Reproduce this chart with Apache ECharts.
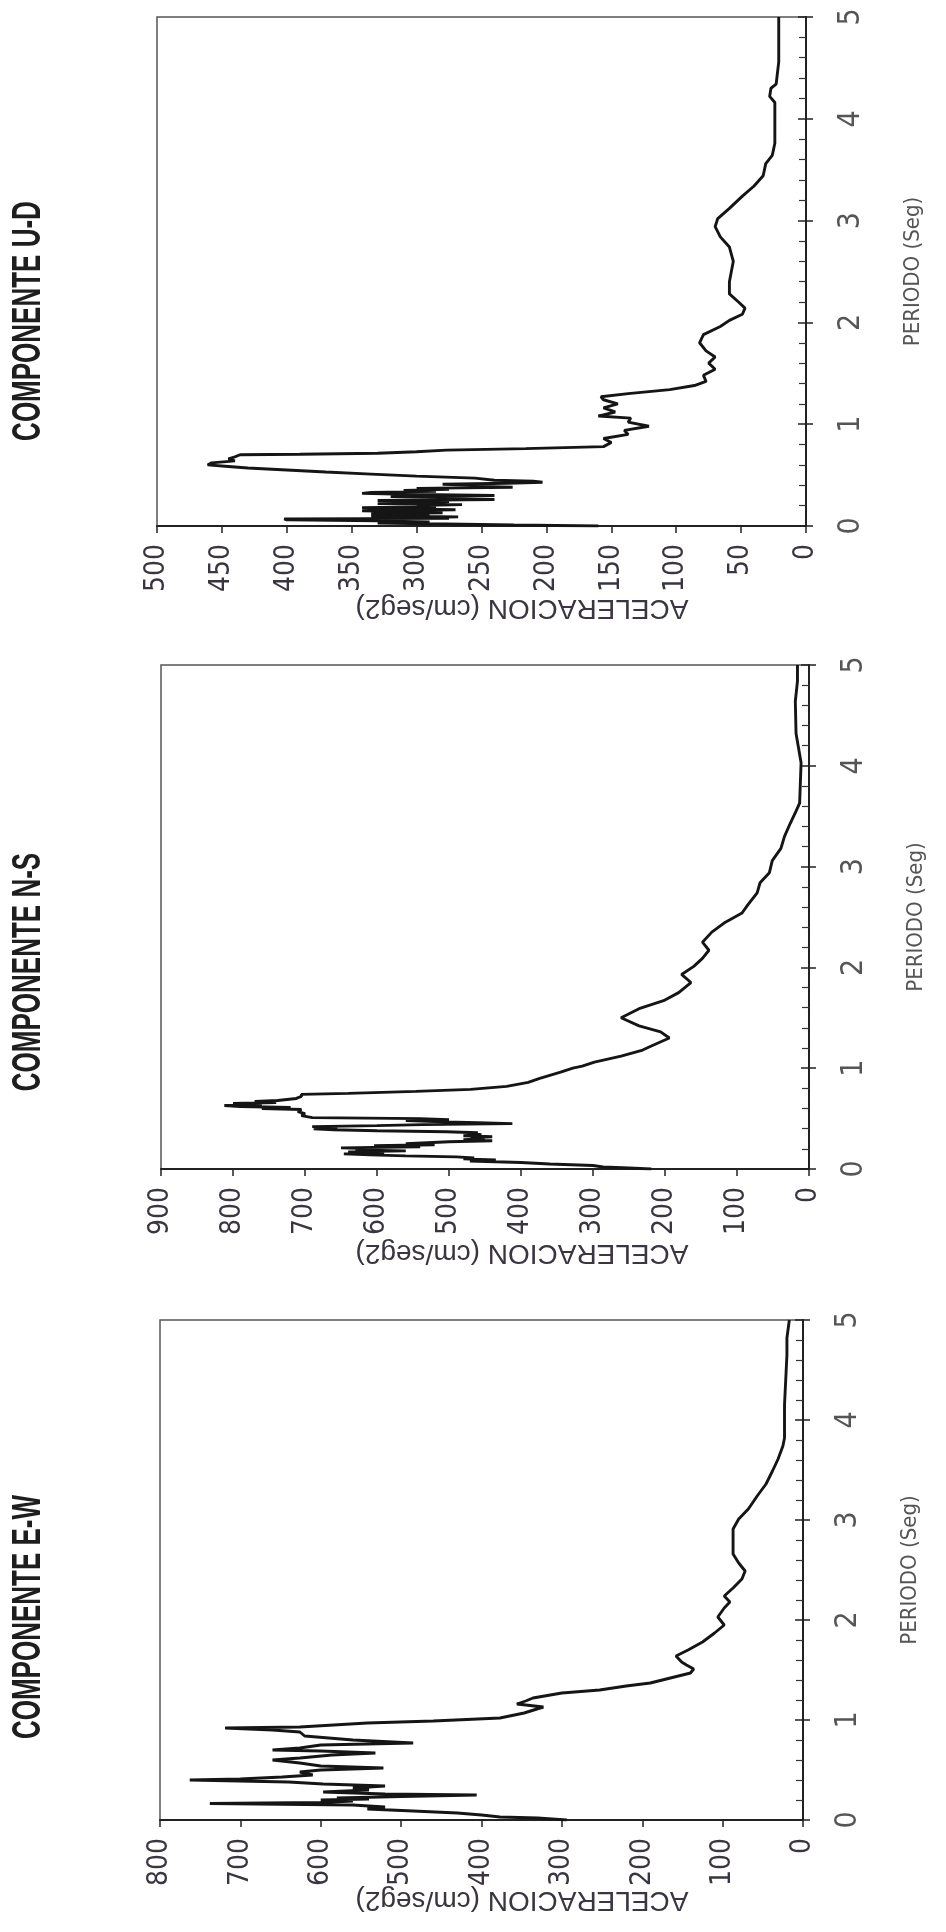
<!DOCTYPE html>
<html>
<head>
<meta charset="utf-8">
<script src="https://cdn.jsdelivr.net/npm/echarts@6/dist/echarts.min.js"></script>
<style>
  html, body { margin: 0; padding: 0; background: #fff; }
  #chart { width: 946px; height: 1932px; }
</style>
</head>
<body>
<div id="chart"></div>
<script>
// espectros de aceleracion, periodo (seg) vs aceleracion (cm/seg2)
const udPeriod = [0, 0.01, 0.02, 0.03, 0.04, 0.05, 0.06, 0.07, 0.075, 0.08, 0.09, 0.1, 0.11, 0.12, 0.13, 0.14,
  0.15, 0.16, 0.17, 0.18, 0.19, 0.2, 0.21, 0.22, 0.23, 0.24, 0.25, 0.26, 0.27, 0.28, 0.29, 0.3, 0.31, 0.32,
  0.33, 0.34, 0.35, 0.36, 0.37, 0.38, 0.39, 0.4, 0.41, 0.42, 0.43, 0.44, 0.45, 0.47, 0.49, 0.51, 0.53, 0.55,
  0.57, 0.585, 0.6, 0.62, 0.64, 0.66, 0.68, 0.7, 0.705, 0.715, 0.73, 0.745, 0.76, 0.78, 0.82, 0.86, 0.9,
  0.94, 0.98, 1.02, 1.06, 1.08, 1.12, 1.16, 1.2, 1.24, 1.27, 1.3, 1.34, 1.38, 1.42, 1.48, 1.54, 1.6, 1.66,
  1.72, 1.8, 1.88, 1.96, 2.02, 2.08, 2.14, 2.2, 2.28, 2.4, 2.6, 2.74, 2.84, 2.94, 3.02, 3.12, 3.24, 3.34,
  3.44, 3.56, 3.64, 3.76, 3.96, 4.16, 4.22, 4.3, 4.34, 4.56, 5]
const udAccel = [160, 225, 225, 330, 290, 330, 400, 402, 275, 300, 268, 335, 290, 335, 280, 300,
  342, 270, 320, 342, 285, 300, 265, 330, 290, 275, 330, 240, 290, 270, 320, 240, 300, 342,
  335, 285, 310, 275, 300, 226, 260, 250, 280, 230, 203, 210, 240, 255, 300, 335, 370, 400,
  430, 445, 461, 458, 440, 445, 440, 436, 390, 330, 300, 277, 216, 156, 150, 156, 137,
  140, 121, 137, 135, 160, 147, 156, 145, 156, 158, 137, 105, 86, 77, 79, 70, 75, 70,
  77, 82, 79, 66, 59, 49, 47, 52, 59, 59, 56, 59, 66, 70, 68, 59, 49, 40,
  33, 31, 26, 24, 24, 24, 28, 27, 23, 21, 21]

const nsPeriod = [0, 0.01, 0.02, 0.035, 0.05, 0.065, 0.08, 0.09, 0.1, 0.11, 0.12, 0.13, 0.14, 0.15, 0.16,
  0.17, 0.18, 0.19, 0.2, 0.21, 0.22, 0.23, 0.24, 0.25, 0.27, 0.28, 0.29, 0.3, 0.31, 0.32, 0.33, 0.34, 0.35,
  0.36, 0.37, 0.38, 0.39, 0.4, 0.41, 0.42, 0.43, 0.44, 0.45, 0.46, 0.47, 0.48, 0.49, 0.5, 0.51, 0.53, 0.55,
  0.57, 0.59, 0.6, 0.61, 0.62, 0.63, 0.64, 0.65, 0.66, 0.67, 0.68, 0.7, 0.72, 0.74, 0.75, 0.77, 0.79, 0.82,
  0.86, 0.9, 0.96, 1, 1.02, 1.06, 1.12, 1.18, 1.22, 1.3, 1.36, 1.42, 1.5, 1.59, 1.67, 1.75, 1.85, 1.93,
  2.01, 2.09, 2.17, 2.25, 2.35, 2.44, 2.54, 2.62, 2.74, 2.84, 2.94, 3.06, 3.18, 3.3, 3.43, 3.55, 3.63,
  4.03, 4.32, 4.64, 4.84, 5]
const nsAccel = [219, 250, 286, 300, 360, 400, 471, 435, 480, 465, 490, 560, 610, 646, 590,
  640, 560, 630, 600, 650, 540, 604, 520, 560, 500, 440, 480, 450, 470, 440, 480, 455, 470,
  460, 504, 600, 660, 688, 655, 690, 600, 537, 412, 460, 520, 560, 500, 540, 690, 705, 700,
  710, 705, 760, 720, 790, 812, 760, 800, 740, 770, 738, 712, 705, 705, 640, 546, 470, 420,
  390, 374, 345, 328, 315, 298, 261, 231, 219, 194, 206, 236, 261, 236, 202, 181, 164, 177,
  160, 148, 139, 148, 135, 118, 93, 85, 72, 68, 55, 51, 39, 34, 26, 18, 13,
  11, 18, 19, 16, 16]

const ewPeriod = [0, 0.02, 0.03, 0.05, 0.07, 0.09, 0.11, 0.13, 0.15, 0.165, 0.175, 0.19, 0.2, 0.21, 0.22,
  0.235, 0.25, 0.26, 0.28, 0.3, 0.32, 0.34, 0.36, 0.38, 0.4, 0.41, 0.43, 0.45, 0.48, 0.5, 0.52, 0.54,
  0.57, 0.6, 0.62, 0.65, 0.67, 0.69, 0.7, 0.72, 0.75, 0.77, 0.8, 0.84, 0.88, 0.9, 0.92, 0.93, 0.95, 0.97,
  0.99, 1.02, 1.07, 1.1, 1.13, 1.16, 1.19, 1.22, 1.27, 1.3, 1.34, 1.37, 1.42, 1.47, 1.51, 1.55, 1.58, 1.64,
  1.7, 1.78, 1.87, 1.95, 2.03, 2.12, 2.18, 2.24, 2.32, 2.41, 2.49, 2.57, 2.66, 2.78, 2.91, 3.01, 3.11,
  3.24, 3.36, 3.49, 3.61, 3.74, 3.82, 4.15, 4.65, 4.82, 5]
const ewAccel = [294, 330, 377, 400, 430, 485, 542, 520, 560, 738, 600, 560, 600, 540, 580,
  500, 406, 520, 597, 540, 560, 520, 597, 640, 763, 700, 648, 610, 626, 600, 522, 600,
  626, 660, 626, 586, 532, 600, 660, 626, 600, 485, 560, 620, 626, 660, 719, 626, 626, 542,
  460, 377, 347, 335, 323, 356, 345, 336, 300, 253, 220, 190, 165, 140, 136, 145, 151, 158,
  143, 125, 110, 98, 106, 98, 91, 98, 87, 76, 72, 80, 87, 87, 87, 80, 68,
  57, 46, 38, 31, 25, 23, 23, 20, 20, 17]

const titles = ['COMPONENTE U-D', 'COMPONENTE N-S', 'COMPONENTE E-W']
const accelMax = [500, 900, 800]
const accelStep = [50, 100, 100]
const periodMax = 5
const periodStep = 1

const curves = [
  [udPeriod, udAccel],
  [nsPeriod, nsAccel],
  [ewPeriod, ewAccel]
]

// posicion de cada panel (la pagina esta girada 90 grados)
const panels = [
  { left: 157, width: 649, top: 17, height: 509, titleY: 321, nameY: 608 },
  { left: 161, width: 648, top: 665, height: 504, titleY: 972, nameY: 1253 },
  { left: 160, width: 643, top: 1320, height: 500, titleY: 1617, nameY: 1900 }
]

const narrow = "'Liberation Sans Narrow', 'DejaVu Sans Condensed', 'Liberation Sans', sans-serif"

const chart = echarts.init(document.getElementById('chart'), null, { renderer: 'canvas' })

const grid = []
const xAxis = []
const yAxis = []
const series = []
const graphic = []

panels.forEach((pn, i) => {
  grid.push({
    left: pn.left,
    top: pn.top,
    width: pn.width,
    height: pn.height,
    show: true,
    borderColor: '#555',
    borderWidth: 1.5,
    outerBoundsMode: 'none'
  })
  xAxis.push({
    gridIndex: i,
    type: 'value',
    min: 0,
    max: accelMax[i],
    interval: accelStep[i],
    inverse: true,
    position: 'bottom',
    axisLine: { show: true, onZero: false, lineStyle: { color: '#222', width: 2 } },
    axisTick: { show: true, length: 7, lineStyle: { color: '#222', width: 1.5 } },
    axisLabel: { rotate: 90, margin: 18, fontSize: 28, color: '#3a3540', fontFamily: narrow },
    splitLine: { show: false }
  })
  // eje de periodos: marcas menores hacia dentro
  yAxis.push({
    gridIndex: i,
    type: 'value',
    min: 0,
    max: periodMax,
    interval: periodStep,
    position: 'right',
    axisLine: { show: true, onZero: false, lineStyle: { color: '#222', width: 2 } },
    axisTick: { show: true, inside: true, length: 8, lineStyle: { color: '#222', width: 1.5 } },
    minorTick: { show: true, splitNumber: 5, length: 7, lineStyle: { color: '#333', width: 1.2 } },
    axisLabel: { rotate: 90, margin: 30, fontSize: 30, color: '#555', fontFamily: narrow },
    name: 'PERIODO (Seg)',
    nameLocation: 'middle',
    nameRotate: 90,
    nameGap: 96,
    nameTextStyle: { fontSize: 22, color: '#555', fontFamily: narrow },
    splitLine: { show: false }
  })
  // mismas marcas mayores hacia fuera
  yAxis.push({
    gridIndex: i,
    type: 'value',
    min: 0,
    max: periodMax,
    interval: periodStep,
    position: 'right',
    axisLine: { show: false },
    axisTick: { show: true, inside: false, length: 7, lineStyle: { color: '#222', width: 1.5 } },
    axisLabel: { show: false },
    splitLine: { show: false }
  })
  const [per, acc] = curves[i]
  series.push({
    type: 'line',
    xAxisIndex: i,
    yAxisIndex: i * 2,
    data: per.map((p, k) => [acc[k], p]),
    showSymbol: false,
    symbol: 'none',
    clip: true,
    lineStyle: { color: '#151515', width: 2.9 },
    animation: false
  })
  graphic.push({
    type: 'text',
    x: 29,
    y: pn.titleY,
    rotation: Math.PI / 2,
    scaleY: 1.55,
    style: {
      text: titles[i],
      fontSize: 26,
      fontWeight: 'bold',
      fontFamily: "'Liberation Sans', Arial, sans-serif",
      fill: '#1e1e1e',
      align: 'center',
      verticalAlign: 'middle'
    }
  })
  graphic.push({
    type: 'text',
    x: 522,
    y: pn.nameY,
    rotation: Math.PI,
    style: {
      text: 'ACELERACION (cm/seg2)',
      fontSize: 28,
      fontFamily: "'Liberation Sans', Arial, sans-serif",
      fill: '#3a3540',
      align: 'center',
      verticalAlign: 'middle'
    }
  })
})

chart.setOption({
  backgroundColor: '#fff',
  animation: false,
  grid: grid,
  xAxis: xAxis,
  yAxis: yAxis,
  series: series,
  graphic: graphic
})
</script>
</body>
</html>
